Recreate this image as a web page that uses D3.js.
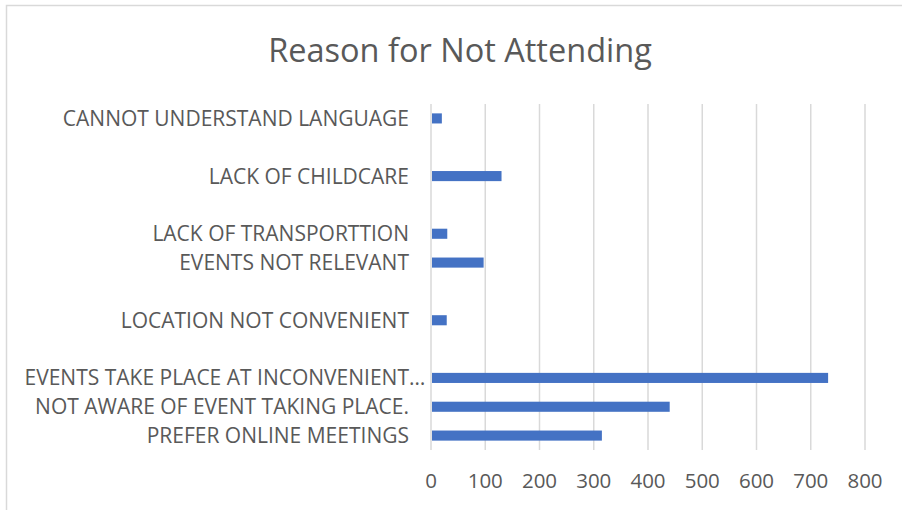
<!DOCTYPE html>
<html>
  <head>
    <meta charset="utf-8" />
    <style>
      body { margin: 0; background: #fff; }
      svg { display: block; font-family: "Open Sans", sans-serif; }
    </style>
  </head>
  <body>
    <svg id="chart"></svg>

    <script src="https://d3js.org/d3.v7.min.js"></script>
    <script>
      // bottom to top, blank entries are the empty rows of the chart
      const categories = [
        "PREFER ONLINE MEETINGS",
        "NOT AWARE OF EVENT TAKING PLACE.",
        "EVENTS TAKE PLACE AT INCONVENIENT…",
        "",
        "LOCATION NOT CONVENIENT",
        "",
        "EVENTS NOT RELEVANT",
        "LACK OF TRANSPORTTION",
        "",
        "LACK OF CHILDCARE",
        "",
        "CANNOT UNDERSTAND LANGUAGE",
      ];
      const values = [315, 440, 732, null, 29, null, 97, 30, null, 130, null, 20];
      const ticks = [0, 100, 200, 300, 400, 500, 600, 700, 800];
      const title = "Reason for Not Attending";

      const width = 902;
      const height = 510;
      const margin = { top: 104, right: 37, bottom: 60, left: 431 };

      const svg = d3
        .select("#chart")
        .attr("width", width)
        .attr("height", height);

      // chart area frame (only the top and left edges are in view)
      svg
        .append("path")
        .attr("d", `M6.5,${height} V5.5 H${width}`)
        .attr("fill", "none")
        .attr("stroke", "#d9d9d9")
        .attr("stroke-width", 1.5);

      const x = d3
        .scaleLinear()
        .domain([0, 800])
        .range([margin.left, width - margin.right]);

      const rows = categories.map((name, i) => ({ i, name, value: values[i] }));

      const y = d3
        .scaleBand()
        .domain(rows.map((d) => d.i))
        .range([height - margin.bottom, margin.top])
        .paddingInner(0.65)
        .paddingOuter(0.325);

      svg
        .append("text")
        .attr("x", 460)
        .attr("y", 62)
        .attr("text-anchor", "middle")
        .attr("fill", "#595959")
        .attr("font-size", 32.5)
        .text(title);

      // vertical gridlines
      svg
        .append("g")
        .selectAll()
        .data(ticks)
        .join("line")
        .attr("x1", (d) => x(d))
        .attr("x2", (d) => x(d))
        .attr("y1", margin.top)
        .attr("y2", height - margin.bottom)
        .attr("stroke", "#d9d9d9")
        .attr("stroke-width", 1.5);

      // x tick labels
      svg
        .append("g")
        .attr("text-anchor", "middle")
        .attr("fill", "#595959")
        .attr("font-size", 20.5)
        .selectAll()
        .data(ticks)
        .join("text")
        .attr("x", (d) => x(d))
        .attr("y", 488)
        .text((d) => d);

      // bars
      svg
        .append("g")
        .selectAll()
        .data(rows.filter((d) => d.value != null))
        .join("rect")
        .attr("x", x(0) + 1)
        .attr("y", (d) => y(d.i))
        .attr("width", (d) => x(d.value) - x(0) - 1)
        .attr("height", y.bandwidth())
        .attr("fill", "#4472c4");

      // category labels
      const labels = svg
        .append("g")
        .attr("text-anchor", "end")
        .attr("fill", "#595959")
        .attr("font-size", 21)
        .selectAll()
        .data(rows.filter((d) => d.name))
        .join("text")
        .attr("x", margin.left - 22)
        .attr("y", (d) => y(d.i) + y.bandwidth() / 2)
        .attr("dy", "0.36em")
        .text((d) => d.name);

      // truncated labels: the ellipsis hangs past the right edge, like Excel
      labels
        .filter((d) => d.name.endsWith("…"))
        .each(function () {
          const t = d3.select(this);
          const full = this.getComputedTextLength();
          const name = t.text();
          t.text(name.slice(0, -1));
          const shift = full - this.getComputedTextLength();
          t.text(name).attr("x", margin.left - 22 + shift);
        });
    </script>
  </body>
</html>
